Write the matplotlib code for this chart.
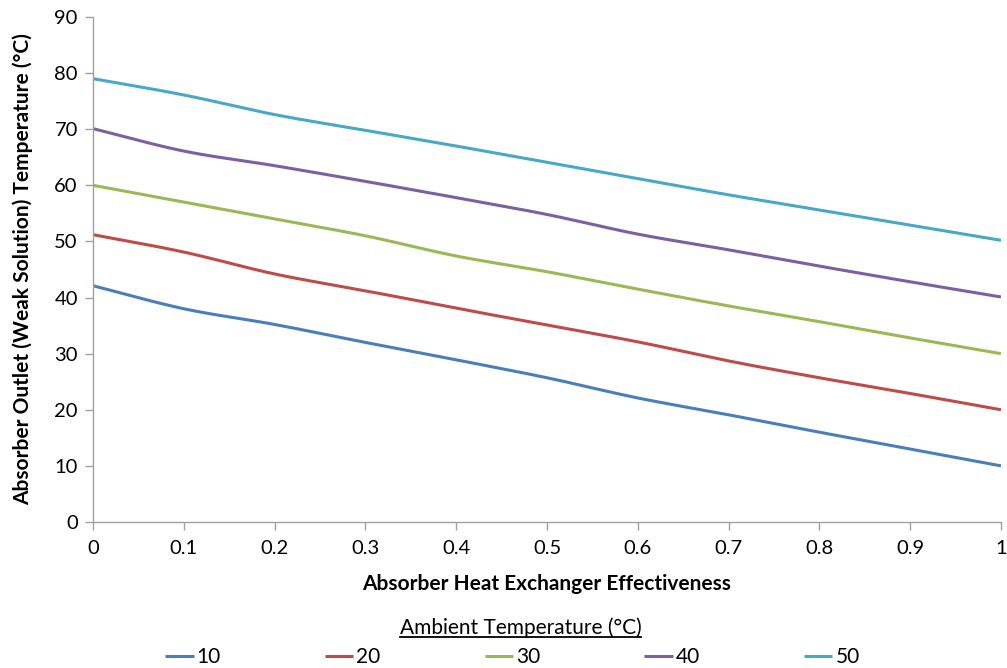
import numpy as np
import matplotlib
matplotlib.use('Agg')
from matplotlib import pyplot as plt
from matplotlib.lines import Line2D

# data
effectiveness = [0, 0.1, 0.2, 0.3, 0.4, 0.5, 0.6, 0.7, 0.8, 0.9, 1.0]
t10 = [42.1, 38.0, 35.2, 32.0, 28.9, 25.7, 22.1, 19.1, 16.0, 13.0, 10.0]
t20 = [51.2, 48.1, 44.2, 41.2, 38.1, 35.1, 32.1, 28.7, 25.7, 22.9, 20.0]
t30 = [60.0, 57.0, 54.0, 51.0, 47.4, 44.6, 41.5, 38.5, 35.7, 32.8, 30.0]
t40 = [70.1, 66.1, 63.5, 60.7, 57.8, 54.8, 51.3, 48.5, 45.6, 42.8, 40.1]
t50 = [79.0, 76.1, 72.6, 69.8, 67.0, 64.1, 61.2, 58.3, 55.6, 52.9, 50.2]
ambient = ['10', '20', '30', '40', '50']
colors = ['#4a7ebb', '#be4b48', '#98b954', '#7d60a0', '#46aac5']

plt.rcParams['font.family'] = ['Lato', 'DejaVu Sans']


def smooth(x, y, n=20):
    # excel-like smoothing (catmull-rom through the points)
    x = np.asarray(x, float); y = np.asarray(y, float)
    px = np.concatenate([[2 * x[0] - x[1]], x, [2 * x[-1] - x[-2]]])
    py = np.concatenate([[2 * y[0] - y[1]], y, [2 * y[-1] - y[-2]]])
    xs, ys = [], []
    t = np.linspace(0, 1, n, endpoint=False)
    for i in range(1, len(px) - 2):
        for arr, out in ((px, xs), (py, ys)):
            p0, p1, p2, p3 = arr[i - 1], arr[i], arr[i + 1], arr[i + 2]
            out.extend(0.5 * ((2 * p1) + (-p0 + p2) * t
                              + (2 * p0 - 5 * p1 + 4 * p2 - p3) * t ** 2
                              + (-p0 + 3 * p1 - 3 * p2 + p3) * t ** 3))
    xs.append(x[-1]); ys.append(y[-1])
    return xs, ys


fig = plt.figure(figsize=(10.07, 6.68), dpi=100)
ax = fig.add_axes([0.0924, 0.2186, 0.9016, 0.756])

for lab, vals, c in zip(ambient, [t10, t20, t30, t40, t50], colors):
    sx, sy = smooth(effectiveness, vals)
    ax.plot(sx, sy, color=c, lw=2.2, label=lab, solid_capstyle='butt')

ax.set_xlim(0, 1)
ax.set_ylim(0, 90)
ax.set_xticks(effectiveness)
ax.set_xticklabels(['0', '0.1', '0.2', '0.3', '0.4', '0.5', '0.6', '0.7', '0.8', '0.9', '1'])
ax.set_yticks(range(0, 91, 10))
for s in ['top', 'right']:
    ax.spines[s].set_visible(False)
for s in ['left', 'bottom']:
    ax.spines[s].set_color('#a0a0a0')
    ax.spines[s].set_linewidth(1.0)
ax.tick_params(colors='#a0a0a0', labelcolor='black', labelsize=14.5, length=6, width=1)
ax.tick_params(axis='x', pad=7)
ax.tick_params(axis='y', pad=5)
ax.set_xlabel('Absorber Heat Exchanger Effectiveness', fontsize=15, fontweight='bold', labelpad=12)
ax.set_ylabel('Absorber Outlet (Weak Solution) Temperature (°C)', fontsize=15, fontweight='bold', labelpad=15)

leg = fig.legend(loc='center', bbox_to_anchor=(0.509, 0.0165), ncol=5, frameon=False, fontsize=15,
                 handlelength=1.35, handletextpad=0.15, columnspacing=5.0)
ttl = fig.text(0.517, 0.061, 'Ambient Temperature (°C)', ha='center', va='center', fontsize=15)
fig.canvas.draw()
bb = ttl.get_window_extent().transformed(fig.transFigure.inverted())
fig.add_artist(Line2D([bb.x0, bb.x1], [bb.y0 + 0.001, bb.y0 + 0.001], color='black', lw=1.3,
                      transform=fig.transFigure))

fig.savefig('out.png', dpi=100)
